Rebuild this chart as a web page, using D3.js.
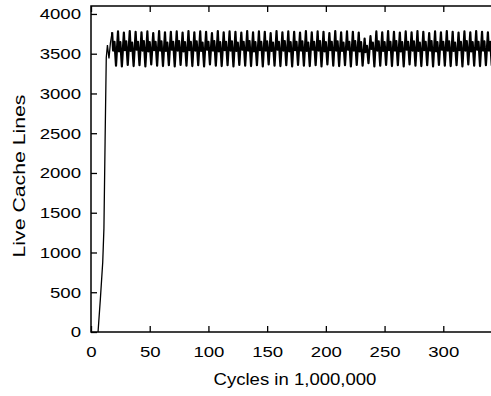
<!DOCTYPE html>
<html>
<head>
<meta charset="utf-8">
<script src="https://cdn.jsdelivr.net/npm/d3@7"></script>
<style>
  body { margin: 0; background: #fff; }
  svg { display: block; }
  text { font-family: "Liberation Sans", Arial, Helvetica, sans-serif; fill: #000; }
</style>
</head>
<body>
<svg id="chart" width="491" height="396"></svg>
<script>
// tick labels
const xTicks = [0, 50, 100, 150, 200, 250, 300];
const yTicks = [0, 500, 1000, 1500, 2000, 2500, 3000, 3500, 4000];

// warm-up ramp (cycles in 1e6, live lines)
const rampX = [6, 8, 10, 11, 12, 13, 14, 15.3, 16.5, 18];
const rampY = [0, 420, 880, 1300, 2400, 3450, 3610, 3440, 3630, 3770];

// steady-state oscillation, read cycle by cycle: peak, band low, band high, trough
const liveX = [
  18, 18.8, 20, 21.3,   23, 23.8, 25, 26.3,   28, 28.8, 30, 31.3,   33, 33.8, 35, 36.3,
  38, 38.8, 40, 41.3,   43, 43.8, 45, 46.3,   48, 48.8, 50, 51.3,   53, 53.8, 55, 56.3,
  58, 58.8, 60, 61.3,   63, 63.8, 65, 66.3,   68, 68.8, 70, 71.3,   73, 73.8, 75, 76.3,
  78, 78.8, 80, 81.3,   83, 83.8, 85, 86.3,   88, 88.8, 90, 91.3,   93, 93.8, 95, 96.3,
  98, 98.8, 100, 101.3, 103, 103.8, 105, 106.3, 108, 108.8, 110, 111.3, 113, 113.8, 115, 116.3,
  118, 118.8, 120, 121.3, 123, 123.8, 125, 126.3, 128, 128.8, 130, 131.3, 133, 133.8, 135, 136.3,
  138, 138.8, 140, 141.3, 143, 143.8, 145, 146.3, 148, 148.8, 150, 151.3, 153, 153.8, 155, 156.3,
  158, 158.8, 160, 161.3, 163, 163.8, 165, 166.3, 168, 168.8, 170, 171.3, 173, 173.8, 175, 176.3,
  178, 178.8, 180, 181.3, 183, 183.8, 185, 186.3, 188, 188.8, 190, 191.3, 193, 193.8, 195, 196.3,
  198, 198.8, 200, 201.3, 203, 203.8, 205, 206.3, 208, 208.8, 210, 211.3, 213, 213.8, 215, 216.3,
  218, 218.8, 220, 221.3, 223, 223.8, 225, 226.3, 228, 228.8, 230, 231.3, 233, 233.8, 235, 236.3,
  238, 238.8, 240, 241.3, 243, 243.8, 245, 246.3, 248, 248.8, 250, 251.3, 253, 253.8, 255, 256.3,
  258, 258.8, 260, 261.3, 263, 263.8, 265, 266.3, 268, 268.8, 270, 271.3, 273, 273.8, 275, 276.3,
  278, 278.8, 280, 281.3, 283, 283.8, 285, 286.3, 288, 288.8, 290, 291.3, 293, 293.8, 295, 296.3,
  298, 298.8, 300, 301.3, 303, 303.8, 305, 306.3, 308, 308.8, 310, 311.3, 313, 313.8, 315, 316.3,
  318, 318.8, 320, 321.3, 323, 323.8, 325, 326.3, 328, 328.8, 330, 331.3, 333, 333.8, 335, 336.3,
  338, 338.8, 340, 341.3
];
const liveY = [
  3770, 3540, 3650, 3350,  3780, 3530, 3645, 3340,  3765, 3545, 3655, 3360,  3785, 3535, 3640, 3345,
  3775, 3550, 3650, 3355,  3770, 3540, 3660, 3340,  3780, 3530, 3645, 3365,  3760, 3545, 3650, 3350,
  3785, 3540, 3655, 3345,  3770, 3535, 3640, 3355,  3775, 3550, 3650, 3340,  3780, 3540, 3660, 3360,
  3765, 3530, 3645, 3350,  3785, 3545, 3650, 3345,  3770, 3540, 3655, 3355,  3780, 3535, 3640, 3340,
  3775, 3550, 3650, 3365,  3760, 3540, 3660, 3350,  3785, 3530, 3645, 3345,  3770, 3545, 3650, 3355,
  3780, 3540, 3655, 3340,  3775, 3535, 3640, 3360,  3765, 3550, 3650, 3350,  3785, 3540, 3660, 3345,
  3770, 3530, 3645, 3355,  3780, 3545, 3650, 3340,  3775, 3540, 3655, 3365,  3760, 3535, 3640, 3350,
  3785, 3550, 3650, 3345,  3770, 3540, 3660, 3355,  3780, 3530, 3645, 3340,  3775, 3545, 3650, 3360,
  3765, 3540, 3655, 3350,  3785, 3535, 3640, 3345,  3770, 3550, 3650, 3355,  3780, 3540, 3660, 3340,
  3775, 3530, 3645, 3365,  3760, 3545, 3650, 3350,  3785, 3540, 3655, 3345,  3770, 3535, 3640, 3355,
  3780, 3550, 3650, 3340,  3775, 3540, 3660, 3360,  3765, 3530, 3645, 3350,  3690, 3520, 3600, 3380,
  3720, 3560, 3640, 3340,  3780, 3540, 3655, 3350,  3770, 3535, 3645, 3360,  3785, 3545, 3650, 3345,
  3775, 3540, 3660, 3355,  3765, 3530, 3645, 3340,  3780, 3550, 3650, 3365,  3770, 3540, 3655, 3350,
  3785, 3535, 3640, 3345,  3775, 3545, 3650, 3355,  3760, 3540, 3660, 3340,  3780, 3530, 3645, 3360,
  3770, 3550, 3650, 3350,  3785, 3540, 3655, 3345,  3775, 3535, 3640, 3355,  3765, 3545, 3650, 3340,
  3780, 3540, 3660, 3365,  3770, 3530, 3645, 3350,  3785, 3550, 3650, 3345,  3775, 3540, 3655, 3355,
  3770, 3540, 3650, 3350
];

const svg = d3.select('#chart');
svg.append('rect').attr('width', 491).attr('height', 396).attr('fill', '#fff');

const x = d3.scaleLinear().domain([0, 350]).range([91, 502]);
const y = d3.scaleLinear().domain([0, 4100]).range([332, 6]);

const line = d3.line()
  .x(d => x(d[0]))
  .y(d => y(d[1]));

// ramp is a thin single stroke in the scan
svg.append('path')
  .datum(rampX.map((v, i) => [v, rampY[i]]))
  .attr('d', line)
  .attr('fill', 'none')
  .attr('stroke', '#000')
  .attr('stroke-width', 1.3);

// the oscillating part prints as a heavy dark band
svg.append('path')
  .datum(liveX.map((v, i) => [v, liveY[i]]))
  .attr('d', line)
  .attr('fill', 'none')
  .attr('stroke', '#000')
  .attr('stroke-width', 2.2)
  .attr('stroke-linejoin', 'round');

// frame
svg.append('rect')
  .attr('x', x(0)).attr('y', y(4100))
  .attr('width', x(350) - x(0)).attr('height', y(0) - y(4100))
  .attr('fill', 'none').attr('stroke', '#000').attr('stroke-width', 1.5);

// axes (ticks point inward)
const gx = svg.append('g')
  .attr('transform', `translate(0,${y(0)})`)
  .call(d3.axisBottom(x).tickValues(xTicks).tickSize(-6).tickPadding(14).tickFormat(d3.format('d')));

const gxTop = svg.append('g')
  .attr('transform', `translate(0,${y(4100)})`)
  .call(d3.axisTop(x).tickValues(xTicks).tickSize(-6).tickFormat(''));

const gy = svg.append('g')
  .attr('transform', `translate(${x(0)},0)`)
  .call(d3.axisLeft(y).tickValues(yTicks).tickSize(-6).tickPadding(10).tickFormat(d3.format('d')));

[gx, gxTop, gy].forEach(g => {
  g.select('.domain').remove();
  g.selectAll('line').attr('stroke', '#000').attr('stroke-width', 1.3);
  g.selectAll('text')
    .style('font-family', '"Liberation Sans", Arial, sans-serif')
    .style('font-size', '15.5px')
    .attr('fill', '#000');
});

// the scan's lettering is a little wide
gx.selectAll('text').attr('transform', 'scale(1.2,1)');
gy.selectAll('text').attr('x', -10 / 1.2).attr('transform', 'scale(1.2,1)');

svg.append('text')
  .attr('transform', 'translate(295,385) scale(1.16,1)')
  .attr('text-anchor', 'middle')
  .style('font-size', '16px')
  .text('Cycles in 1,000,000');

svg.append('text')
  .attr('transform', 'translate(25,176) rotate(-90) scale(1.25,1)')
  .attr('text-anchor', 'middle')
  .style('font-size', '17px')
  .text('Live Cache Lines');
</script>
</body>
</html>
